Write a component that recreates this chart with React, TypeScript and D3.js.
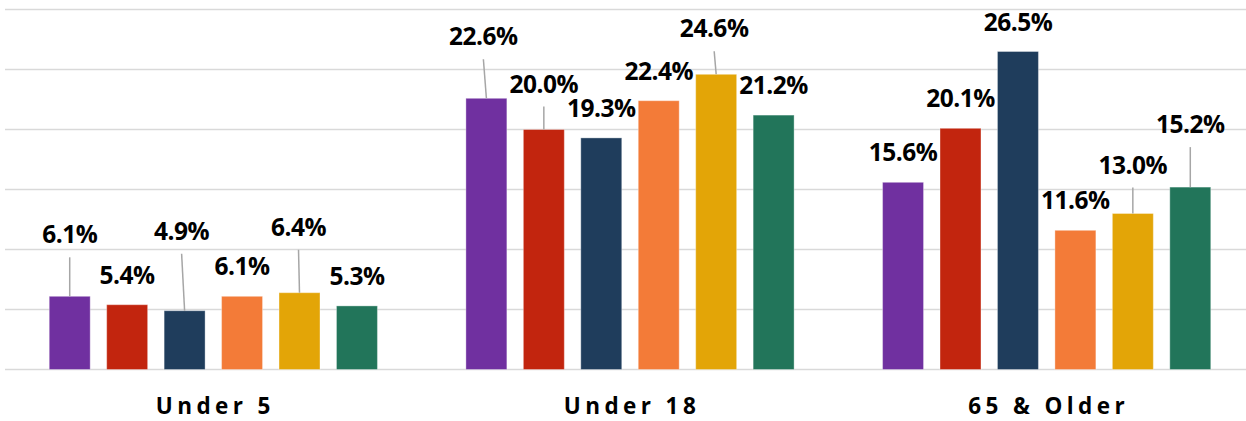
import React from 'react';
import * as d3 from 'd3';

// chart data
const categories = ['Under 5', 'Under 18', '65 & Older'];
const seriesNames = ['A', 'B', 'C', 'D', 'E', 'F'];
const purpleVals = [6.1, 22.6, 15.6];
const redVals = [5.4, 20.0, 20.1];
const navyVals = [4.9, 19.3, 26.5];
const orangeVals = [6.1, 22.4, 11.6];
const goldVals = [6.4, 24.6, 13.0];
const greenVals = [5.3, 21.2, 15.2];
const yTicks = [0, 5, 10, 15, 20, 25, 30];

const seriesValues = [purpleVals, redVals, navyVals, orangeVals, goldVals, greenVals];
const colors = ['#7030A0', '#C2250E', '#1F3D5C', '#F37B38', '#E3A507', '#22755A'];

// labels that were dragged up in the original (extra lift px, dx px), per series then category
const labelMoves = [
  [[32, 0], [32, -3], [0, 0]],
  [[0, 0], [16, 0], [0, 0]],
  [[50, -3], [0, 0], [0, 0]],
  [[0, 0], [0, 0], [0, 0]],
  [[36, -1], [16, -2], [19, 0]],
  [[0, 0], [0, 0], [33, 0]],
];

const W = 1246;
const H = 421;

export default function App() {
  const x0 = d3.scaleBand<string>().domain(categories).range([5, 1255]);
  const x1 = d3.scaleBand<string>()
    .domain(seriesNames)
    .range([0, x0.bandwidth()])
    .paddingInner(0.287)
    .paddingOuter(0.77);
  const y = d3.scaleLinear().domain([0, 30]).range([369.5, 9.5]);

  const fmt = (v: number) => v.toFixed(1) + '%';
  const font = '"Open Sans", Lato, sans-serif';

  return (
    <div style={{ position: 'absolute', left: 0, top: 0 }}>
      <svg width={W} height={H} style={{ display: 'block', background: '#fff' }}>
        {yTicks.map(t => (
          <line key={t} x1={5} x2={W} y1={y(t)} y2={y(t)} stroke="#d9d9d9" strokeWidth={1.5} />
        ))}

        {categories.map((c, ci) => (
          <g key={c} transform={`translate(${x0(c)},0)`}>
            {seriesNames.map((s, si) => {
              const v = seriesValues[si][ci];
              const bx = x1(s)!;
              const bw = x1.bandwidth();
              return (
                <rect key={s} x={bx} y={y(v)} width={bw} height={y(0) - y(v)}
                  fill={colors[si]} stroke="#fff" strokeOpacity={0.35} strokeWidth={1} />
              );
            })}
            {seriesNames.map((s, si) => {
              const v = seriesValues[si][ci];
              const cx = x1(s)! + x1.bandwidth() / 2;
              const [lift, dx] = labelMoves[si][ci];
              const base = y(v) - 21 - lift;
              const lx = cx + dx;
              return (
                <g key={s}>
                  {lift > 0 && (
                    <line x1={lx} y1={base + 14} x2={cx} y2={y(v)} stroke="#a6a6a6" strokeWidth={1.5} />
                  )}
                  <text x={lx} y={base} textAnchor="middle" fontFamily={font} fontWeight={700}
                    fontSize={24.5} letterSpacing={-0.5} fill="#000">{fmt(v)}</text>
                </g>
              );
            })}
            <text x={x0.bandwidth() / 2 + 2} y={414} textAnchor="middle" fontFamily={font}
              fontWeight={700} fontSize={22.5} letterSpacing={4.4} fill="#000">{c}</text>
          </g>
        ))}
      </svg>
    </div>
  );
}
